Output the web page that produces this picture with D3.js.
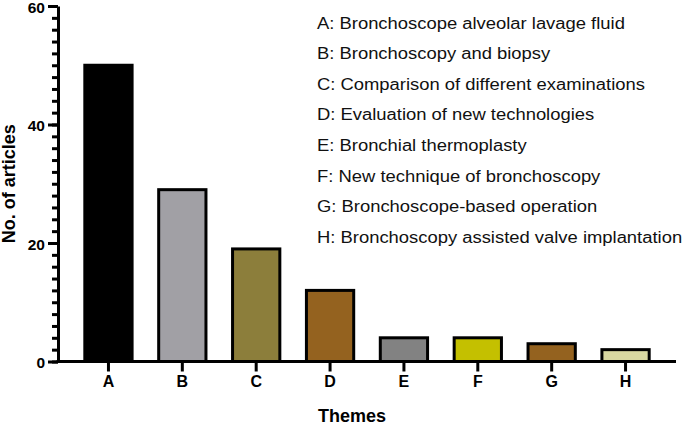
<!DOCTYPE html>
<html>
<head>
<meta charset="utf-8">
<script src="https://cdn.jsdelivr.net/npm/d3@7"></script>
<style>
  body { margin: 0; background: #fff; }
  text { font-family: "Liberation Sans", Arial, sans-serif; }
</style>
</head>
<body>
<div id="chart"></div>
<script>
// chart data
let themes = ['A', 'B', 'C', 'D', 'E', 'F', 'G', 'H'];
let articles = [50, 29, 19, 12, 4, 4, 3, 2];
let barColors = ['#000000', '#a1a0a5', '#8c7e3b', '#94621f', '#828282', '#c4c000', '#94621f', '#d9d8a1'];
let legendLabels = [
    'A: Bronchoscope alveolar lavage fluid',
    'B: Bronchoscopy and biopsy',
    'C: Comparison of different examinations',
    'D: Evaluation of new technologies',
    'E: Bronchial thermoplasty',
    'F: New technique of bronchoscopy',
    'G: Bronchoscope-based operation',
    'H: Bronchoscopy assisted valve implantation'
];
let yTicks = [0, 20, 40, 60];

let svgWidth = 685;
let svgHeight = 425;

let svg = d3.select('#chart')
    .append('svg')
    .attr('width', svgWidth)
    .attr('height', svgHeight);

//plot area edges
let plotLeft = 58, plotRight = 676, plotTop = 6, plotBottom = 361.5;

let xScale = d3.scaleBand()
    .domain(themes)
    .range([plotLeft, plotRight])
    .paddingInner(0.36)
    .paddingOuter(0.363);

let yScale = d3.scaleLinear()
    .domain([0, 60])
    .range([plotBottom, plotTop]);

//bars
svg.selectAll('rect.bar')
    .data(themes)
    .enter()
    .append('rect')
    .attr('class', 'bar')
    .attr('x', d => xScale(d))
    .attr('width', xScale.bandwidth())
    .attr('y', (d, i) => yScale(articles[i]))
    .attr('height', (d, i) => plotBottom - yScale(articles[i]))
    .attr('fill', (d, i) => barColors[i])
    .attr('stroke', '#000')
    .attr('stroke-width', 3);

//y axis with minor ticks
let yMinor = svg.append('g')
    .attr('transform', `translate(${plotLeft},0)`)
    .call(d3.axisLeft(yScale).tickValues(d3.range(0, 61, 2)).tickSize(6).tickFormat(''));
yMinor.selectAll('line').attr('stroke-width', 3);
yMinor.select('.domain').remove();

let yAxis = svg.append('g')
    .attr('transform', `translate(${plotLeft},0)`)
    .call(d3.axisLeft(yScale).tickValues(yTicks).tickSize(10).tickPadding(3).tickSizeOuter(0));
yAxis.select('.domain').attr('stroke-width', 3);
yAxis.selectAll('line').attr('stroke-width', 3);
yAxis.selectAll('text')
    .attr('font-size', 15.5)
    .attr('font-weight', 'bold')
    .attr('font-family', '"Liberation Sans", Arial, sans-serif')
    .attr('fill', '#000')
    .attr('dy', '0.4em');

//x axis
let xAxis = svg.append('g')
    .attr('transform', `translate(0,${plotBottom})`)
    .call(d3.axisBottom(xScale).tickSize(10).tickPadding(4).tickSizeOuter(0));
xAxis.select('.domain')
    .attr('d', `M${plotLeft - 1.5},0H${plotRight}`)
    .attr('stroke-width', 3);
xAxis.selectAll('line').attr('stroke-width', 3);
xAxis.selectAll('text')
    .attr('font-size', 16)
    .attr('font-weight', 'bold')
    .attr('font-family', '"Liberation Sans", Arial, sans-serif')
    .attr('fill', '#000');

//axis titles
svg.append('text')
    .attr('transform', `translate(15,${(plotTop + plotBottom) / 2}) rotate(-90)`)
    .attr('text-anchor', 'middle')
    .attr('font-size', 18)
    .attr('font-weight', 'bold')
    .text('No. of articles');

svg.append('text')
    .attr('x', 352)
    .attr('y', 422)
    .attr('text-anchor', 'middle')
    .attr('font-size', 18)
    .attr('font-weight', 'bold')
    .text('Themes');

//legend text, stretched a bit since the original font is wider
svg.selectAll('text.legend')
    .data(legendLabels)
    .enter()
    .append('text')
    .attr('class', 'legend')
    .attr('x', 317)
    .attr('y', (d, i) => 28.5 + i * 30.6)
    .attr('font-size', 16)
    .attr('fill', '#111')
    .text(d => d)
    .each(function() {
        let w = this.getComputedTextLength();
        d3.select(this)
            .attr('textLength', w * 1.15)
            .attr('lengthAdjust', 'spacingAndGlyphs');
    });
</script>
</body>
</html>
